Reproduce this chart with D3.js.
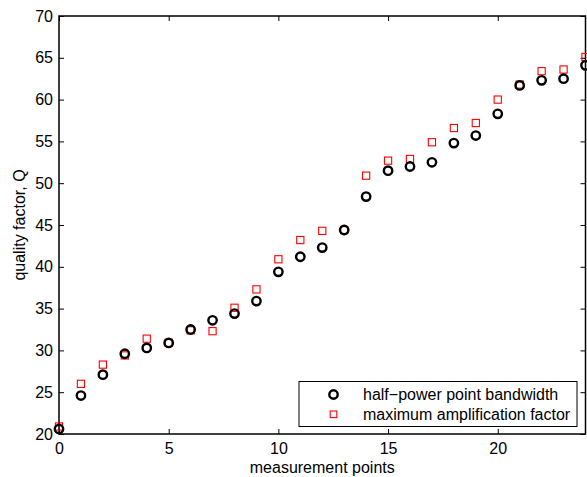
<!DOCTYPE html>
<html>
<head>
<meta charset="utf-8">
<script src="https://cdn.jsdelivr.net/npm/d3@7"></script>
<style>
  html, body { margin: 0; padding: 0; background: #fff; }
  svg { display: block; }
  text { font-family: "Liberation Sans", Arial, Helvetica, sans-serif; }
</style>
</head>
<body>
<svg id="chart" width="587" height="477"></svg>
<script>
// Measurement point indices
const points = d3.range(0, 25);

// Quality factor from half-power point bandwidth
const qBandwidth = [20.6, 24.6, 27.1, 29.6, 30.3, 30.9, 32.5, 33.6, 34.4, 35.9,
  39.4, 41.2, 42.3, 44.4, 48.4, 51.5, 52.0, 52.5, 54.8, 55.7, 58.3, 61.7, 62.3, 62.5, 64.1];

// Quality factor from maximum amplification factor
const qAmplification = [20.9, 26.0, 28.3, 29.4, 31.4, 30.9, 32.4, 32.3, 35.1, 37.3,
  40.9, 43.2, 44.3, 44.4, 50.9, 52.7, 52.9, 54.9, 56.6, 57.2, 60.0, 61.8, 63.4, 63.6, 65.1];

const xTicks = [0, 5, 10, 15, 20];
const yTicks = [20, 25, 30, 35, 40, 45, 50, 55, 60, 65, 70];
const seriesNames = ["half\u2212power point bandwidth", "maximum amplification factor"];

const svg = d3.select("#chart");
const margin = { left: 59, right: 585.5, top: 16, bottom: 434 };

const x = d3.scaleLinear().domain([0, 24]).range([margin.left, margin.right]);
const y = d3.scaleLinear().domain([20, 70]).range([margin.bottom, margin.top]);

const tickLen = 5;
const fontSize = 16;

// Axes: labelled bottom/left, mirrored tick marks on top/right
const gx = svg.append("g").attr("transform", `translate(0,${margin.bottom})`)
  .call(d3.axisBottom(x).tickValues(xTicks).tickSizeInner(-tickLen).tickSizeOuter(0).tickPadding(9));
const gxTop = svg.append("g").attr("transform", `translate(0,${margin.top})`)
  .call(d3.axisTop(x).tickValues(xTicks).tickSizeInner(-tickLen).tickSizeOuter(0).tickFormat(""));
const gy = svg.append("g").attr("transform", `translate(${margin.left},0)`)
  .call(d3.axisLeft(y).tickValues(yTicks).tickSizeInner(-tickLen).tickSizeOuter(0).tickPadding(6));
const gyRight = svg.append("g").attr("transform", `translate(${margin.right},0)`)
  .call(d3.axisRight(y).tickValues(yTicks).tickSizeInner(-tickLen).tickSizeOuter(0).tickFormat(""));

[gx, gxTop, gy, gyRight].forEach(g => {
  g.select(".domain").remove();
  g.selectAll("line").attr("stroke", "#000").attr("stroke-width", 1);
  g.selectAll("text").attr("fill", "#000").style("font-size", fontSize + "px")
    .style("font-family", "'Liberation Sans', Arial, sans-serif");
});

// Plot frame
svg.append("rect")
  .attr("x", margin.left).attr("y", margin.top)
  .attr("width", margin.right - margin.left).attr("height", margin.bottom - margin.top)
  .attr("fill", "none").attr("stroke", "#000").attr("stroke-width", 1.5);

// Axis titles
svg.append("text")
  .attr("x", (margin.left + margin.right) / 2).attr("y", 472.5)
  .attr("text-anchor", "middle").style("font-size", fontSize + "px")
  .text("measurement points");
svg.append("text")
  .attr("transform", `translate(25,${(margin.top + margin.bottom) / 2}) rotate(-90)`)
  .attr("text-anchor", "middle").style("font-size", fontSize + "px")
  .text("quality factor, Q");

const plot = svg.append("g");

// Series: open squares (red)
const sq = 7.2;
plot.selectAll("rect.amp").data(points).enter().append("rect")
  .attr("class", "amp")
  .attr("x", i => x(i) - sq / 2).attr("y", i => y(qAmplification[i]) - sq / 2)
  .attr("width", sq).attr("height", sq)
  .attr("fill", "none").attr("stroke", "#ff0000").attr("stroke-width", 1.1);

// Series: open circles (black)
const cr = 4.2;
const cw = 2.4;
plot.selectAll("circle.bw").data(points).enter().append("circle")
  .attr("class", "bw")
  .attr("cx", i => x(i)).attr("cy", i => y(qBandwidth[i]))
  .attr("r", cr)
  .attr("fill", "none").attr("stroke", "#000").attr("stroke-width", cw);

// Legend
const lg = svg.append("g");
lg.append("rect")
  .attr("x", 299).attr("y", 381.5).attr("width", 278).attr("height", 45)
  .attr("fill", "#fff").attr("stroke", "#000").attr("stroke-width", 1);
lg.append("circle").attr("cx", 333.5).attr("cy", 394.5)
  .attr("r", cr).attr("fill", "none").attr("stroke", "#000").attr("stroke-width", cw);
lg.append("rect").attr("x", 333.5 - 3.3).attr("y", 414.3 - 3.3)
  .attr("width", 6.6).attr("height", 6.6)
  .attr("fill", "none").attr("stroke", "#ff0000").attr("stroke-width", 1.1);
seriesNames.forEach((name, k) => {
  lg.append("text").attr("x", 363).attr("y", 394.5 + k * 20)
    .attr("dy", "0.35em").style("font-size", fontSize + "px").text(name);
});
</script>
</body>
</html>
